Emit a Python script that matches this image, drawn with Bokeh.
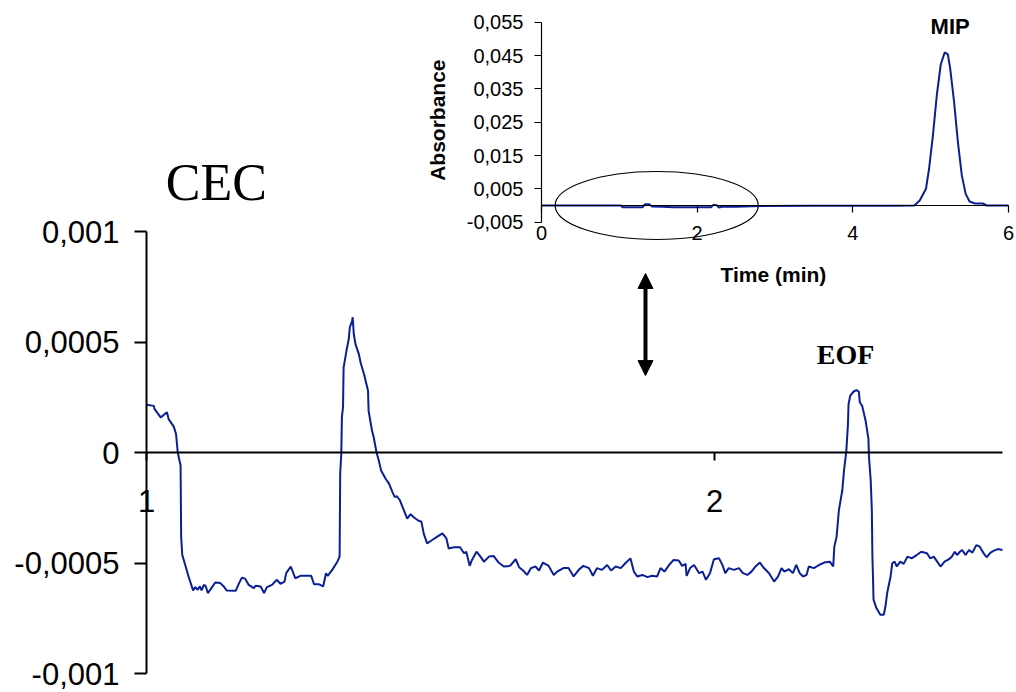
import math
from bokeh.plotting import figure
from bokeh.models import (Range1d, LinearAxis, FixedTicker, CustomJSTickFormatter,
                          Label, Arrow, NormalHead)
from bokeh.embed import file_html
from bokeh.resources import INLINE

# ---------------- data ----------------
# Main chart: CEC trace, time (min) vs absorbance (AU), zoom of 1 - 2.5 min
cec_time = [
    1.000, 1.013, 1.014, 1.025, 1.029, 1.036, 1.039, 1.048, 1.052, 1.055,
    1.060, 1.061, 1.063, 1.069, 1.074, 1.082, 1.086, 1.090, 1.094, 1.097,
    1.101, 1.104, 1.108, 1.113, 1.121, 1.130, 1.136, 1.141, 1.157, 1.163,
    1.168, 1.174, 1.180, 1.189, 1.192, 1.201, 1.207, 1.212, 1.221, 1.229,
    1.236, 1.243, 1.246, 1.254, 1.262, 1.271, 1.280, 1.290, 1.295, 1.303,
    1.311, 1.316, 1.319, 1.327, 1.336, 1.340, 1.341, 1.343, 1.344, 1.346,
    1.347, 1.352, 1.356, 1.358, 1.362, 1.363, 1.365, 1.368, 1.374, 1.377,
    1.383, 1.390, 1.391, 1.397, 1.400, 1.405, 1.409, 1.413, 1.421, 1.427,
    1.433, 1.437, 1.441, 1.446, 1.453, 1.459, 1.465, 1.471, 1.479, 1.484,
    1.488, 1.494, 1.503, 1.512, 1.521, 1.528, 1.532, 1.541, 1.552, 1.559,
    1.563, 1.569, 1.573, 1.581, 1.588, 1.594, 1.603, 1.611, 1.620, 1.629,
    1.640, 1.650, 1.656, 1.663, 1.670, 1.677, 1.685, 1.691, 1.698, 1.708,
    1.717, 1.723, 1.734, 1.743, 1.752, 1.761, 1.769, 1.779, 1.786, 1.793,
    1.802, 1.811, 1.818, 1.826, 1.835, 1.843, 1.852, 1.858, 1.864, 1.873,
    1.882, 1.890, 1.899, 1.905, 1.912, 1.920, 1.928, 1.937, 1.943, 1.949,
    1.951, 1.957, 1.964, 1.973, 1.979, 1.985, 1.992, 1.999, 2.008, 2.014,
    2.019, 2.025, 2.034, 2.043, 2.050, 2.058, 2.065, 2.072, 2.080, 2.087,
    2.096, 2.105, 2.112, 2.118, 2.123, 2.131, 2.138, 2.144, 2.150, 2.156,
    2.162, 2.166, 2.175, 2.184, 2.193, 2.203, 2.209, 2.211, 2.215, 2.219,
    2.225, 2.228, 2.232, 2.235, 2.236, 2.239, 2.245, 2.250, 2.254, 2.256,
    2.260, 2.266, 2.271, 2.272, 2.275, 2.277, 2.278, 2.279, 2.280, 2.285,
    2.292, 2.298, 2.301, 2.304, 2.310, 2.313, 2.317, 2.321, 2.327, 2.333,
    2.340, 2.347, 2.356, 2.364, 2.374, 2.380, 2.386, 2.392, 2.398, 2.405,
    2.413, 2.418, 2.423, 2.427, 2.432, 2.436, 2.442, 2.448, 2.454, 2.461,
    2.467, 2.473, 2.479, 2.486, 2.492, 2.499, 2.507,
]
cec_abs = [
    0.000216, 0.000211, 0.000197, 0.000159, 0.000167, 0.000182, 0.000151, 0.000117, 0.000084, 0.000000,
    -0.000059, -0.000381, -0.000464, -0.000516, -0.000561, -0.000624, -0.000609, -0.000621, -0.000606, -0.000624,
    -0.000599, -0.000603, -0.000636, -0.000618, -0.000588, -0.000591, -0.000606, -0.000624, -0.000626, -0.000591,
    -0.000566, -0.000572, -0.000599, -0.000614, -0.000603, -0.000606, -0.000636, -0.000609, -0.000599, -0.000576,
    -0.000594, -0.000584, -0.000546, -0.000516, -0.000569, -0.000558, -0.000558, -0.000558, -0.000596, -0.000596,
    -0.000606, -0.000546, -0.000558, -0.000531, -0.000494, -0.000471, -0.000096, 0.000000, 0.000159, 0.000207,
    0.000384, 0.000459, 0.000512, 0.000567, 0.000594, 0.000612, 0.000534, 0.000489, 0.000444, 0.000406,
    0.000354, 0.000279, 0.000189, 0.000099, 0.000069, 0.000000, -0.000036, -0.000081, -0.000119, -0.000141,
    -0.000179, -0.000201, -0.000198, -0.000216, -0.000261, -0.000299, -0.000279, -0.000294, -0.000309, -0.000313,
    -0.000366, -0.000411, -0.000396, -0.000381, -0.000366, -0.000389, -0.000434, -0.000429, -0.000429, -0.000456,
    -0.000449, -0.000513, -0.000486, -0.000449, -0.000471, -0.000494, -0.000471, -0.000468, -0.000498, -0.000516,
    -0.000513, -0.000483, -0.000519, -0.000534, -0.000554, -0.000523, -0.000516, -0.000534, -0.000498, -0.000513,
    -0.000554, -0.000539, -0.000523, -0.000523, -0.000561, -0.000531, -0.000513, -0.000523, -0.000558, -0.000523,
    -0.000531, -0.000509, -0.000534, -0.000516, -0.000523, -0.000501, -0.000479, -0.000539, -0.000561, -0.000554,
    -0.000564, -0.000558, -0.000561, -0.000523, -0.000539, -0.000509, -0.000486, -0.000489, -0.000513, -0.000504,
    -0.000558, -0.000523, -0.000509, -0.000546, -0.000539, -0.000576, -0.000546, -0.000483, -0.000479, -0.000509,
    -0.000546, -0.000523, -0.000531, -0.000523, -0.000546, -0.000554, -0.000539, -0.000516, -0.000498, -0.000523,
    -0.000546, -0.000584, -0.000561, -0.000523, -0.000539, -0.000528, -0.000546, -0.000509, -0.000546, -0.000561,
    -0.000554, -0.000516, -0.000523, -0.000509, -0.000498, -0.000494, -0.000516, -0.000426, -0.000381, -0.000261,
    -0.000171, -0.000081, 0.000004, 0.000129, 0.000219, 0.000257, 0.000276, 0.000282, 0.000276, 0.000226,
    0.000211, 0.000144, 0.000062, -0.000021, -0.000126, -0.000261, -0.000471, -0.000561, -0.000666, -0.000704,
    -0.000734, -0.000734, -0.000696, -0.000636, -0.000561, -0.000501, -0.000494, -0.000516, -0.000494, -0.000504,
    -0.000471, -0.000479, -0.000464, -0.000449, -0.000456, -0.000479, -0.000471, -0.000494, -0.000516, -0.000494,
    -0.000483, -0.000471, -0.000449, -0.000464, -0.000449, -0.000441, -0.000464, -0.000441, -0.000453, -0.000419,
    -0.000426, -0.000453, -0.000474, -0.000453, -0.000444, -0.000437, -0.000441,
]
main_x_ticks = [1, 2]
main_y_ticks = [-0.001, -0.0005, 0, 0.0005, 0.001]

# Inset: full MIP run, time (min) vs absorbance
mip_time = [0.0, 1.02, 1.04, 1.30, 1.33, 1.38, 1.42, 1.55, 1.70, 2.00,
            2.18, 2.21, 2.25, 2.28, 2.32, 2.50, 2.70, 3.50, 4.50, 4.79,
            4.86, 4.94, 4.98, 5.03, 5.08, 5.13, 5.18, 5.22, 5.25, 5.30,
            5.35, 5.40, 5.45, 5.50, 5.57, 5.67, 5.72, 6.0]
mip_abs = [0.0, 0.0, -0.0005, -0.0005, 0.0004, 0.0004, -0.0003, -0.0004, -0.0005, -0.0005,
           -0.0005, 0.0002, 0.0001, -0.0006, -0.0004, -0.0004, -0.0002, -0.0001, -0.0001, 0.0,
           0.0015, 0.0050, 0.0111, 0.0212, 0.0333, 0.0423, 0.0459, 0.0454, 0.0413, 0.0313,
           0.0191, 0.0091, 0.0035, 0.0012, 0.0006, 0.0006, 0.0, 0.0]
inset_x_ticks = [0, 2, 4, 6]
inset_y_ticks = [-0.005, 0.005, 0.015, 0.025, 0.035, 0.045, 0.055]

# highlighted zone in the inset (time centre / width, absorbance centre / height)
zone_time, zone_width = 1.48, 2.61
zone_abs, zone_height = 0.0000, 0.0204

# ---------------- layout ----------------
W, H = 1014, 690
BLUE = "#0a1f93"

# main scale anchors (canvas px)
MX0, MX_PER = 146.0, 568.0       # t = 1 at x=146
MY0, MY_PER = 452.0, 221000.0    # A = 0 at y=452
# inset scale anchors
IX0, IX_PER = 541.0, 77.83       # t = 0 at x=541
IY0, IY_PER = 205.0, 3333.3      # A = 0 at y=205

x_main = Range1d(1 - MX0 / MX_PER, 1 + (W - MX0) / MX_PER)
y_main = Range1d(-(H - MY0) / MY_PER, MY0 / MY_PER)
x_in = Range1d(-IX0 / IX_PER, (W - IX0) / IX_PER)
y_in = Range1d(-(H - IY0) / IY_PER, IY0 / IY_PER)

p = figure(width=W, height=H, x_range=x_main, y_range=y_main,
           x_axis_location=None, y_axis_location=None,
           toolbar_location=None, output_backend="svg",
           min_border=0, outline_line_color=None,
           background_fill_color="white", border_fill_color="white")
p.extra_x_ranges = {"ix": x_in}
p.extra_y_ranges = {"iy": y_in}
for g in p.grid:
    g.visible = False
p.xgrid.grid_line_color = None
p.ygrid.grid_line_color = None

comma = CustomJSTickFormatter(code="return tick.toString().replace('.', ',');")
comma2 = CustomJSTickFormatter(code="return tick.toString().replace('.', ',');")

# main axes
main_y = LinearAxis(fixed_location=1.0, bounds=(-0.001, 0.001),
                    ticker=FixedTicker(ticks=main_y_ticks), formatter=comma,
                    major_tick_out=12, major_tick_in=0, minor_tick_line_color=None,
                    axis_line_width=2, major_tick_line_width=2,
                    major_label_text_font="Liberation Sans",
                    major_label_text_font_size="31px",
                    major_label_text_color="black",
                    major_label_standoff=15)
p.add_layout(main_y, "left")
main_x = LinearAxis(fixed_location=0, bounds=(1, 2.507),
                    ticker=FixedTicker(ticks=main_x_ticks),
                    major_tick_out=8, major_tick_in=0, minor_tick_line_color=None,
                    axis_line_width=2, major_tick_line_width=2,
                    major_label_text_font="Liberation Sans",
                    major_label_text_font_size="31px",
                    major_label_text_color="black",
                    major_label_standoff=29)
p.add_layout(main_x, "below")

# inset axes
in_y = LinearAxis(x_range_name="ix", y_range_name="iy", fixed_location=0,
                  bounds=(-0.005, 0.055),
                  ticker=FixedTicker(ticks=inset_y_ticks), formatter=comma2,
                  major_tick_out=7, major_tick_in=0, minor_tick_line_color=None,
                  axis_line_width=1.2, major_tick_line_width=1.2,
                  major_label_text_font="Liberation Sans",
                  major_label_text_font_size="20px",
                  major_label_text_color="black",
                  major_label_standoff=11)
p.add_layout(in_y, "left")
in_x = LinearAxis(x_range_name="ix", y_range_name="iy", fixed_location=0,
                  bounds=(0, 6),
                  ticker=FixedTicker(ticks=inset_x_ticks),
                  major_tick_out=7, major_tick_in=0, minor_tick_line_color=None,
                  axis_line_width=1.2, major_tick_line_width=1.2,
                  major_label_text_font="Liberation Sans",
                  major_label_text_font_size="20px",
                  major_label_text_color="black",
                  major_label_standoff=13)
p.add_layout(in_x, "below")

# traces
p.line(cec_time, cec_abs, line_color=BLUE, line_width=2)
p.line(mip_time, mip_abs, x_range_name="ix", y_range_name="iy",
       line_color=BLUE, line_width=2)
p.ellipse(x=[zone_time], y=[zone_abs], width=[zone_width], height=[zone_height],
          x_range_name="ix", y_range_name="iy",
          fill_color=None, line_color="black", line_width=1.2)

# texts
p.add_layout(Label(x=1.123, y=0.001222, text="CEC", text_font="Liberation Serif",
                   text_font_size="52px", text_color="black",
                   text_align="center", text_baseline="alphabetic"))
p.add_layout(Label(x=2.2306, y=0.000444, text="EOF", text_font="Liberation Serif",
                   text_font_size="28px", text_font_style="bold", text_color="black",
                   text_align="center", text_baseline="alphabetic"))
p.add_layout(Label(x=5.25, y=0.0537, x_range_name="ix", y_range_name="iy",
                   text="MIP", text_font="Liberation Sans", text_font_size="22px",
                   text_font_style="bold", text_color="black",
                   text_align="center", text_baseline="alphabetic"))
p.add_layout(Label(x=-1.34, y=0.0256, x_range_name="ix", y_range_name="iy",
                   text="Absorbance", angle=math.pi / 2,
                   text_font="Liberation Sans", text_font_size="21px",
                   text_font_style="bold", text_color="black",
                   text_align="center", text_baseline="middle"))
p.add_layout(Label(x=2.98, y=-0.0207, x_range_name="ix", y_range_name="iy",
                   text="Time (min)", text_font="Liberation Sans", text_font_size="21px",
                   text_font_style="bold", text_color="black",
                   text_align="center", text_baseline="middle"))

# double-headed arrow linking inset and zoom
p.add_layout(Arrow(x_start=1.8785, y_start=0.00081, x_end=1.8785, y_end=0.000348,
                   line_width=4, line_color="black",
                   start=NormalHead(size=15, fill_color="black", line_color="black"),
                   end=NormalHead(size=15, fill_color="black", line_color="black")))

open("out.html", "w").write(file_html(p, INLINE))
